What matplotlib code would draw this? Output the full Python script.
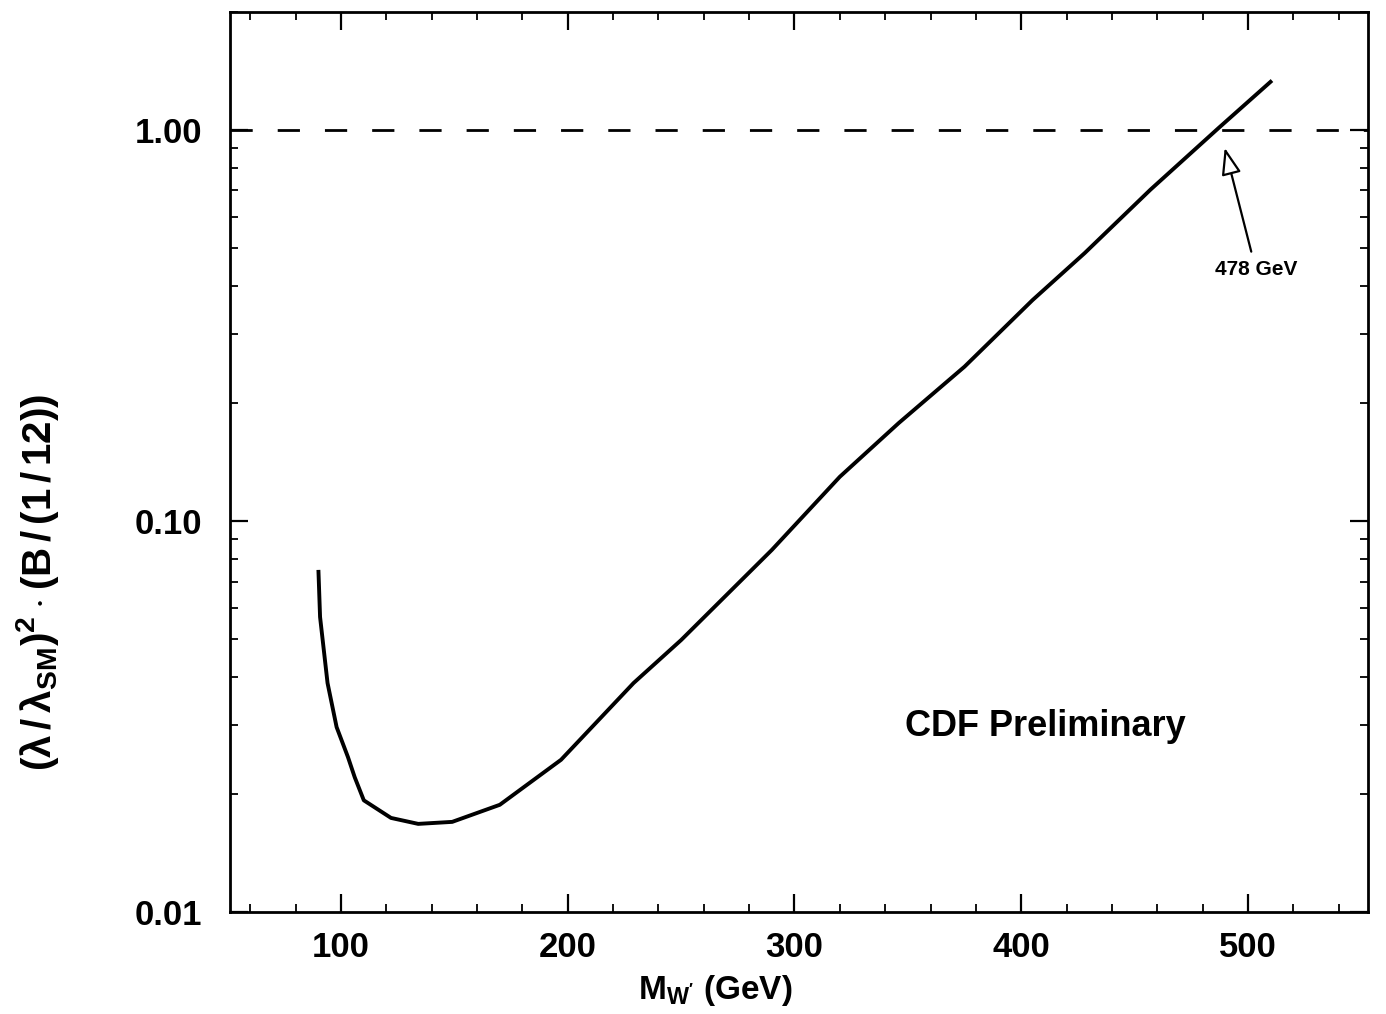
import matplotlib
matplotlib.use("Agg")
import matplotlib.pyplot as plt
from matplotlib.ticker import FixedLocator, MultipleLocator, NullFormatter

# ===== data =====
mass = [90, 90.7, 94, 98, 103, 106, 110, 122, 134, 149, 170, 197, 229,
        250, 290, 320, 346, 375, 405, 428, 457, 487, 510]
limit = [0.0741, 0.0568, 0.0385, 0.0297, 0.0249, 0.0221, 0.0193,
         0.0174, 0.0168, 0.0170, 0.0188, 0.0245, 0.0385, 0.0496, 0.0843,
         0.1297, 0.178, 0.248, 0.367, 0.484, 0.703, 1.01, 1.327]
y_ticks = [0.01, 0.1, 1.0]
y_tick_labels = ["0.01", "0.10", "1.00"]
x_ticks = [100, 200, 300, 400, 500]
limit_mass = 489.8   # where the arrow points
limit_label = "478 GeV"

plt.rcParams["font.family"] = ["Liberation Sans", "DejaVu Sans"]
plt.rcParams["font.weight"] = "bold"
plt.rcParams["lines.scale_dashes"] = False
plt.rcParams["mathtext.fontset"] = "custom"
plt.rcParams["mathtext.rm"] = "Liberation Sans:bold"
plt.rcParams["mathtext.bf"] = "Liberation Sans:bold"
plt.rcParams["mathtext.it"] = "Liberation Sans:bold:italic"
plt.rcParams["mathtext.default"] = "bf"

fig = plt.figure(figsize=(13.86, 10.14), dpi=100)
ax = fig.add_axes([0.166, 0.1006, 0.821, 0.8874])

ax.plot(mass, limit, color="black", lw=2.8, solid_joinstyle="round")
ax.axhline(1.0, color="black", lw=2.0, dashes=(16, 18))

ax.set_yscale("log")
ax.set_xlim(51, 553)
ax.set_ylim(0.01, 2.0)

ax.xaxis.set_major_locator(FixedLocator(x_ticks))
ax.xaxis.set_minor_locator(MultipleLocator(20))
ax.yaxis.set_major_locator(FixedLocator(y_ticks))
ax.yaxis.set_minor_locator(FixedLocator([m * d for d in (0.01, 0.1, 1.0) for m in range(2, 10)]))
ax.yaxis.set_minor_formatter(NullFormatter())
ax.set_yticklabels(y_tick_labels)

ax.tick_params(which="both", direction="in", top=True, right=True, color="black")
ax.tick_params(which="major", length=13, width=1.6, labelsize=25, pad=20)
ax.tick_params(axis="x", which="major", pad=14)
ax.tick_params(which="minor", length=6, width=1.3)
for s in ax.spines.values():
    s.set_linewidth(2.0)

# axis labels placed by hand, like the scan
fig.text(38 / 1386, 1 - 582 / 1014,
         r"$(\lambda\,/\,\lambda_{SM})^{2}\cdot(B\,/\,(1\,/\,12))$",
         rotation=90, ha="center", va="center", fontsize=29)
fig.text(715 / 1386, 1 - 990 / 1014, r"M$_{W'}$ (GeV)",
         ha="center", va="center", fontsize=24)

ax.text(1045 / 1386, 1 - 727 / 1014, "CDF Preliminary", transform=fig.transFigure,
        ha="center", va="center", fontsize=26)

ax.annotate(limit_label, xy=(limit_mass, 0.90), xytext=(503.5, 0.44),
            ha="center", va="center", fontsize=15,
            arrowprops=dict(arrowstyle="-|>,head_length=1.1,head_width=0.4",
                            fc="white", ec="black", lw=1.6, shrinkA=4, shrinkB=0))

fig.savefig("out.png", dpi=100)
plt.close(fig)
